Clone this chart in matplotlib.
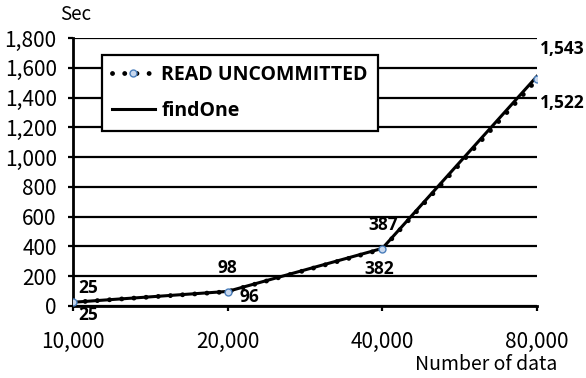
import matplotlib
matplotlib.use("Agg")
import matplotlib.pyplot as plt

categories = ["10,000", "20,000", "40,000", "80,000"]
read_uncommitted = [25, 96, 382, 1522]
find_one = [25, 98, 387, 1543]

fig = plt.figure(figsize=(5.86, 3.78), dpi=100)
ax = fig.add_axes([0.1246, 0.1905, 0.7918, 0.709])

x = list(range(len(categories)))

ax.plot(x, find_one, color="black", lw=2.2, label="findOne", zorder=3)
ax.plot(x, read_uncommitted, color="black", lw=3.5,
        linestyle=(0, (0.01, 2.5)), dash_capstyle="round",
        marker="o", markersize=5, markerfacecolor="#c8d8ee",
        markeredgecolor="#4a7ebb", markeredgewidth=1,
        label="READ UNCOMMITTED", zorder=4)

ax.set_xlim(0, 3)
ax.set_ylim(0, 1800)
ax.set_yticks(range(0, 1801, 200))
ax.set_xticks(x)
ax.set_xticklabels(categories)
ax.yaxis.set_major_formatter(matplotlib.ticker.FuncFormatter(lambda v, p: f"{int(v):,}"))
ax.grid(axis="y", color="black", lw=1.6)
ax.set_axisbelow(True)
for s in ["top", "right"]:
    ax.spines[s].set_visible(False)
for s in ["left", "bottom"]:
    ax.spines[s].set_linewidth(2)
ax.tick_params(axis="both", length=3.8, width=1.6, color="black", labelsize=15)
ax.tick_params(axis="y", pad=8)
ax.tick_params(axis="x", pad=14)
for lbl in ax.get_xticklabels() + ax.get_yticklabels():
    lbl.set_family(["Noto Sans CJK JP", "DejaVu Sans"])

ax.text(0.005, 1.05, "Sec", transform=ax.transAxes, ha="center", va="bottom",
        fontsize=13.5, family=["Noto Sans CJK JP", "DejaVu Sans"])
ax.text(1.043, -0.22, "Number of data", transform=ax.transAxes, ha="right",
        va="center", fontsize=14, family=["Noto Sans CJK JP", "DejaVu Sans"])

# data labels (pixel offsets from each point)
upper = [(15, 14), (0, 23), (1, 23), (25, 27)]
lower = [(15, -13), (22, -5), (-3, -20), (25, -24)]
lab = dict(textcoords="offset pixels", ha="center", va="center",
           fontsize=12.5, fontweight="bold", family="Open Sans")
for i in x:
    ax.annotate(f"{find_one[i]:,}", (i, find_one[i]), xytext=upper[i], **lab)
    ax.annotate(f"{read_uncommitted[i]:,}", (i, read_uncommitted[i]),
                xytext=lower[i], **lab)

handles, labels = ax.get_legend_handles_labels()
leg = ax.legend(handles[::-1], labels[::-1], loc="upper left",
                bbox_to_anchor=(0.0625, 0.9366), borderaxespad=0,
                fancybox=False, edgecolor="black", framealpha=1,
                handlelength=2.2, handletextpad=0.35, borderpad=0.5,
                labelspacing=0.85, prop={"family": "Open Sans",
                                         "weight": "bold", "size": 14})
leg.get_frame().set_linewidth(1.6)

fig.savefig("out.png", dpi=100)
